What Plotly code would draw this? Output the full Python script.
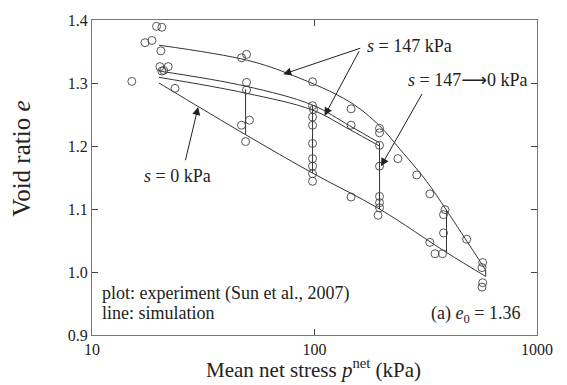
import plotly.graph_objects as go
import numpy as np

# ---- data ----
exp_p = [15.1, 17.3, 18.6, 19.5, 20.6, 20.4, 20.2, 22.0, 20.6, 21.0, 23.6,
         47, 49.5, 49.5, 49.5, 47, 51, 49,
         98, 98, 99, 98, 98, 98, 98, 98, 98, 98,
         146, 146, 146,
         196, 196, 196, 196, 196, 196, 196, 193,
         237, 288, 330, 330, 348,
         386, 380, 380, 376,
         483, 570, 566, 570, 566]
exp_e = [1.3025, 1.364, 1.3675, 1.390, 1.3885, 1.351, 1.326, 1.326, 1.319, 1.320, 1.2915,
         1.340, 1.3455, 1.301, 1.289, 1.233, 1.241, 1.207,
         1.302, 1.264, 1.258, 1.246, 1.233, 1.204, 1.180, 1.168, 1.156, 1.144,
         1.259, 1.233, 1.119,
         1.228, 1.221, 1.201, 1.168, 1.120, 1.110, 1.102, 1.090,
         1.180, 1.154, 1.124, 1.047, 1.029,
         1.099, 1.091, 1.062, 1.029,
         1.052, 1.015, 1.007, 0.983, 0.976]

sim_upper_p = [20, 50, 80, 144, 196, 242, 319, 392, 588]
sim_upper_e = [1.360, 1.336, 1.312, 1.270, 1.232, 1.195, 1.144, 1.098, 1.003]

sim_mid1_p = [20, 49, 98, 144, 196]
sim_mid1_e = [1.319, 1.295, 1.265, 1.232, 1.205]

sim_mid2_p = [20, 49, 98, 144, 196]
sim_mid2_e = [1.309, 1.284, 1.257, 1.226, 1.200]

sim_s0_p = [20, 49, 98, 196, 392, 588]
sim_s0_e = [1.300, 1.218, 1.157, 1.100, 1.031, 0.993]

wet_p = [49, 98, 196, 392, 588]
wet_top = [1.290, 1.265, 1.205, 1.098, 1.003]
wet_bot = [1.218, 1.157, 1.100, 1.031, 0.993]

x_ticks = [10, 100, 1000]
y_ticks = [0.9, 1.0, 1.1, 1.2, 1.3, 1.4]
y_tick_labels = ["0.9", "1.0", "1.1", "1.2", "1.3", "1.4"]

FONT = "Liberation Serif, Times New Roman, serif"
LC = "#333333"

fig = go.Figure()

for px_, ey_ in [(sim_upper_p, sim_upper_e), (sim_mid1_p, sim_mid1_e),
                 (sim_mid2_p, sim_mid2_e), (sim_s0_p, sim_s0_e)]:
    fig.add_trace(go.Scatter(x=px_, y=ey_, mode="lines",
                             line=dict(color=LC, width=1), showlegend=False,
                             line_shape="spline"))

vx, vy = [], []
for p, t, b in zip(wet_p, wet_top, wet_bot):
    vx += [p, p, None]
    vy += [t, b, None]
fig.add_trace(go.Scatter(x=vx, y=vy, mode="lines",
                         line=dict(color=LC, width=1), showlegend=False))

fig.add_trace(go.Scatter(x=exp_p, y=exp_e, mode="markers",
                         marker=dict(symbol="circle-open", size=8,
                                     color="#444444", line=dict(width=0.9)),
                         showlegend=False))

L = np.log10
ann = []
txt = dict(showarrow=False, font=dict(family=FONT, size=18, color="#222"),
           xref="x", yref="y")
ann.append(dict(text="<i>s</i> = 147 kPa", x=L(168), y=1.359, xanchor="left", yanchor="middle", **txt))
ann.append(dict(text="<i>s</i> = 147<span style=\"font-family:DejaVu Sans\">⟶</span>0 kPa", x=L(259), y=1.306, xanchor="left", yanchor="middle", **txt))
ann.append(dict(text="<i>s</i> = 0 kPa", x=L(16.7), y=1.152, xanchor="left", yanchor="middle", **txt))
ann.append(dict(text="plot: experiment (Sun et al., 2007)", x=L(10.86), y=0.966, xanchor="left", yanchor="middle", **txt))
ann.append(dict(text="line: simulation", x=L(10.86), y=0.935, xanchor="left", yanchor="middle", **txt))
ann.append(dict(text="(a) <i>e</i><sub>0</sub> = 1.36", x=L(857), y=0.932, xanchor="right", yanchor="middle", **txt))

arr = dict(text="", showarrow=True, arrowhead=2, arrowsize=1.6, arrowwidth=1,
           arrowcolor="#222", xref="x", yref="y", axref="x", ayref="y")
ann.append(dict(x=L(72.4), y=1.314, ax=L(163), ay=1.356, **arr))
ann.append(dict(x=L(111), y=1.248, ax=L(160), ay=1.353, **arr))
ann.append(dict(x=L(199), y=1.168, ax=L(307), ay=1.285, **arr))
ann.append(dict(x=L(30), y=1.262, ax=L(26.2), ay=1.175, **arr))

ann.append(dict(text="Mean net stress <i>p</i><sup>net</sup> (kPa)", xref="paper", yref="paper",
                x=(313 - 92) / 445, y=(335 - 369) / 318, xanchor="center", yanchor="middle",
                showarrow=False, font=dict(family=FONT, size=21, color="#222")))
ann.append(dict(text="Void ratio <i>e</i>", xref="paper", yref="paper",
                x=(22 - 92) / 445, y=(335 - 157) / 318, xanchor="center", yanchor="middle",
                textangle=-90, showarrow=False, font=dict(family=FONT, size=25, color="#222")))

fig.update_layout(
    width=567, height=385,
    margin=dict(l=92, r=30, t=17, b=50),
    paper_bgcolor="white", plot_bgcolor="white",
    font=dict(family=FONT, size=16, color="#222"),
    annotations=ann,
    xaxis=dict(type="log", range=[1, 3], tickvals=x_ticks, ticktext=[str(v) for v in x_ticks],
               ticks="inside", ticklen=6, tickcolor="#444", showgrid=False, zeroline=False,
               showline=True, linecolor="#777", linewidth=1, mirror="ticks",
               tickfont=dict(family=FONT, size=16)),
    yaxis=dict(range=[0.9, 1.4], tickvals=y_ticks, ticktext=y_tick_labels,
               ticks="inside", ticklen=6, tickcolor="#444", showgrid=False, zeroline=False,
               showline=True, linecolor="#777", linewidth=1, mirror="ticks",
               tickfont=dict(family=FONT, size=16)),
)

fig.write_html("out.html")
